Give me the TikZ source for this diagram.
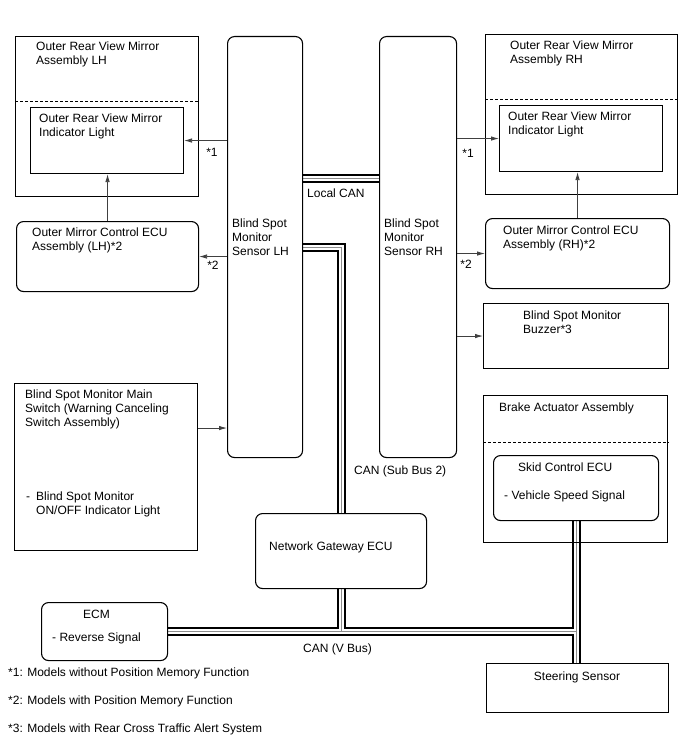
\documentclass[tikz,border=0pt]{standalone}
\usepackage{fontspec}
\setmainfont{Liberation Sans}
\usetikzlibrary{arrows.meta, positioning, backgrounds}

\begin{document}
\begin{tikzpicture}[x=1bp, y=-1bp, font={\fontsize{12bp}{14bp}\selectfont},
  box/.style={draw, line width=1.1bp, anchor=north west, inner sep=0pt},
  rbox/.style={box, rounded corners=7bp},
  txt/.style={anchor=north west, align=left, inner sep=0pt},
  sig/.style={draw=black!75, line width=0.8bp, -{Latex[length=8bp, width=4.5bp]}},
  sep/.style={line width=0.9bp, dash pattern=on 3bp off 2bp}]
  \useasboundingbox (0,0) rectangle (688,755);

  % mirrors
  \node[box, minimum width=183bp, minimum height=160bp] (lmir) at (15,36) {};
  \node[box, minimum width=153bp, minimum height=66bp] (lmiri) at (30,107) {};
  \node[box, minimum width=192bp, minimum height=160bp] (rmir) at (485,34) {};
  \node[box, minimum width=163bp, minimum height=66bp] (rmiri) at (499,105) {};
  \draw[sep] ([yshift=15bp]lmir.west) -- ([yshift=15bp]lmir.east);
  \draw[sep] ([yshift=15bp]rmir.west) -- ([yshift=15bp]rmir.east);
  \node[txt] (lmirt) at (36,41.5) {Outer Rear View Mirror\\Assembly LH};
  \node[txt] (lmirit) at (39,113.5) {Outer Rear View Mirror\\Indicator Light};
  \node[txt] (rmirt) at (510,40.5) {Outer Rear View Mirror\\Assembly RH};
  \node[txt] (rmirit) at (508,111.5) {Outer Rear View Mirror\\Indicator Light};

  % mirror ECUs
  \node[rbox, minimum width=182bp, minimum height=70bp] (lecu) at (16,221) {};
  \node[rbox, minimum width=184bp, minimum height=70bp] (recu) at (485,218) {};
  \node[txt] (lecut) at (32,227.5) {Outer Mirror Control ECU\\Assembly (LH)*2};
  \node[txt] (recut) at (503,225.5) {Outer Mirror Control ECU\\Assembly (RH)*2};

  % sensors
  \node[rbox, minimum width=75bp, minimum height=421bp] (lhs) at (227,36) {};
  \node[rbox, minimum width=77bp, minimum height=421bp] (rhs) at (379,36) {};
  \node[txt] (lhst) at (232,218.5) {Blind Spot\\Monitor\\Sensor LH};
  \node[txt] (rhst) at (384,218.5) {Blind Spot\\Monitor\\Sensor RH};

  % buzzer, switch, brake
  \node[box, minimum width=185bp, minimum height=65bp] (buz) at (483,303) {};
  \node[txt] (buzt) at (523,310.5) {Blind Spot Monitor\\Buzzer*3};
  \node[box, minimum width=183bp, minimum height=167bp] (sw) at (14,383) {};
  \node[txt] (swt) at (25,389.5) {Blind Spot Monitor Main\\Switch (Warning Canceling\\Switch Assembly)};
  \node[txt] (swi) at (26,491.5) {\makebox[10bp][l]{-}Blind Spot Monitor\\\hspace*{10bp}ON/OFF Indicator Light};
  \node[box, minimum width=184bp, minimum height=147bp] (brk) at (483,395) {};
  \draw[sep] ([yshift=26.5bp]brk.west) -- ([yshift=26.5bp]brk.east);
  \node[txt] (brkt) at (499,402.5) {Brake Actuator Assembly};
  \node[rbox, minimum width=165bp, minimum height=65bp] (skid) at (493,455) {};
  \node[txt] (skidt) at (504,462.5) {\hspace*{14bp}Skid Control ECU\\[14bp]- Vehicle Speed Signal};

  % gateway, ECM, steering
  \node[rbox, minimum width=171bp, minimum height=75bp] (gw) at (255,513) {};
  \node[txt] (gwt) at (269,541.5) {Network Gateway ECU};
  \node[rbox, minimum width=126bp, minimum height=58bp] (ecm) at (41,602) {};
  \node[txt] (ecmt) at (52,609.5) {\hspace*{31bp}ECM\\[9bp]- Reverse Signal};
  \node[box, minimum width=182bp, minimum height=49bp] (steer) at (486,663) {};
  \node (steert) at (577,677) {Steering Sensor};

  % buses
  \begin{scope}[on background layer]
    \foreach \w/\c in {9/black, 5/white, 1/black!45} {
      \draw[line width=\w bp, draw=\c] ([yshift=68.5bp]lhs.east) -- ([yshift=68.5bp]lhs.east -| rhs.west);
      \draw[line width=\w bp, draw=\c] (lhs.east) -| (gw.north);
      \draw[line width=\w bp, draw=\c] (ecm.east) -- (ecm.east -| skid.south);
      \draw[line width=\w bp, draw=\c] (gw.south) -- (gw.south |- ecm.east);
      \draw[line width=\w bp, draw=\c] (skid.south) -- (skid.south |- steer.north);
    }
  \end{scope}
  \node[txt] (lcan) at (307,188.5) {Local CAN};
  \node[txt] (subcan) at (354,465.5) {CAN (Sub Bus 2)};
  \node[txt] (vcan) at (303,643.5) {CAN (V Bus)};

  % signal lines
  \draw[sig] (lhs.west |- lmiri.east) -- (lmiri.east);
  \draw[sig] (rhs.east |- rmiri.west) -- (rmiri.west);
  \draw[sig] (lhs.west |- lecu.east) -- (lecu.east);
  \draw[sig] (rhs.east |- recu.west) -- (recu.west);
  \draw[sig] (lecu.north) -- (lecu.north |- lmiri.south);
  \draw[sig] (recu.north) -- (recu.north |- rmiri.south);
  \draw[sig] (rhs.east |- buz.west) -- (buz.west);
  \draw[sig] ([yshift=39bp]sw.east) -- ([yshift=39bp]sw.east -| lhs.west);
  \node (s1l) at (212,152) {*1};
  \node (s1r) at (468,153) {*1};
  \node (s2l) at (213,265) {*2};
  \node (s2r) at (466,264) {*2};

  % notes
  \node[txt] (n1) at (8,667.5) {*1: Models without Position Memory Function};
  \node[txt] (n2) at (8,695.5) {*2: Models with Position Memory Function};
  \node[txt] (n3) at (8,723.5) {*3: Models with Rear Cross Traffic Alert System};
\end{tikzpicture}
\end{document}
